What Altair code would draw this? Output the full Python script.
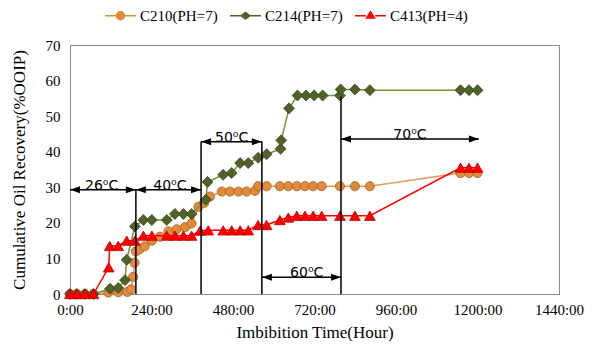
import altair as alt
import pandas as pd

# ---------------- data ----------------
series_names = ["C210(PH=7)", "C214(PH=7)", "C413(PH=4)"]

c210_hours = [0, 20, 44, 69, 113, 142, 169, 180, 186, 190, 194, 205, 220, 241, 265, 290, 314, 339, 358,
              378, 395, 412, 447, 471, 496, 520, 545, 554, 579, 618, 643, 668, 692, 716, 741, 795, 839, 883,
              1150, 1175, 1200]
c210_rec = [0, 0, 0, 0, 0.4, 0.5, 0.6, 1.3, 4.8, 8.8, 12.0, 12.6, 13.4, 15.0, 16.1, 17.6, 18.2, 18.8, 19.8,
            24.5, 25.6, 27.4, 28.8, 28.8, 28.8, 28.8, 29.0, 30.3, 30.3, 30.3, 30.3, 30.3, 30.3, 30.3, 30.3, 30.3,
            30.3, 30.3, 34.0, 34.0, 34.0]

c214_hours = [0, 20, 44, 69, 118, 142, 162, 167, 191, 216, 241, 285, 309, 334, 358, 400, 405, 451, 476,
              501, 525, 554, 579, 620, 622, 645, 670, 695, 719, 744, 795, 797, 839, 883, 1150, 1175, 1200]
c214_rec = [0, 0, 0, 0, 1.5, 1.7, 3.9, 9.6, 19.0, 20.8, 20.8, 20.8, 22.5, 22.5, 22.5, 26.5, 31.5, 33.5, 34.0,
            36.8, 36.8, 38.3, 39.3, 40.8, 43.2, 52.2, 55.8, 55.8, 55.8, 55.8, 55.8, 57.5, 57.5, 57.3, 57.3,
            57.3, 57.3]

c413_hours = [0, 20, 44, 69, 114, 117, 142, 167, 191, 216, 241, 285, 309, 334, 358, 383, 407, 451, 476,
              501, 525, 554, 579, 618, 643, 668, 692, 716, 741, 795, 839, 883, 1150, 1175, 1200]
c413_rec = [0, 0, 0, 0, 7.5, 13.5, 13.5, 15.0, 15.0, 16.4, 16.4, 16.4, 16.4, 16.4, 16.4, 17.8, 17.9, 17.9,
            17.9, 17.9, 17.9, 19.4, 19.4, 20.8, 21.5, 22.0, 22.0, 22.0, 22.0, 22.0, 22.0, 22.0, 35.5, 35.5, 35.5]

# temperature stage annotations (hours, % OOIP)
vline_hours = [194, 386, 565, 798]
vline_bottom = [0, 0, 0, 0]
vline_top = [29.3, 42.8, 42.8, 55.5]

arrow_start = [0, 194, 386, 565, 798]
arrow_end = [194, 386, 565, 798, 1204]
arrow_level = [29.3, 29.3, 42.8, 4.7, 43.6]
arrow_label_hour = [93, 294, 476, 697, 1001]
arrow_labels = ["26⁰C", "40⁰C", "50⁰C", "60⁰C", "70⁰C"]

x_tick_values = [0, 240, 480, 720, 960, 1200, 1440]
y_tick_values = [0, 10, 20, 30, 40, 50, 60, 70]

# ---------------- styles ----------------
line_colors = ["#E39A5A", "#76923C", "#FF0000"]
marker_fill = ["#E08A3C", "#4F6228", "#FF0000"]
marker_edge = ["#A8622A", "#3A4A1C", "#C00000"]
marker_shape = ["circle", "diamond", "triangle-up"]
marker_size = [85, 120, 115]

legend_paths = [
    "M-1,-0.05 L-0.28,-0.05 L-0.28,0.05 L-1,0.05 Z M0.28,-0.05 L1,-0.05 L1,0.05 L0.28,0.05 Z "
    "M-0.3,0 A0.3,0.3 0 1,1 0.3,0 A0.3,0.3 0 1,1 -0.3,0 Z",
    "M-1,-0.05 L-0.3,-0.05 L-0.3,0.05 L-1,0.05 Z M0.3,-0.05 L1,-0.05 L1,0.05 L0.3,0.05 Z "
    "M0,-0.27 L0.36,0 L0,0.27 L-0.36,0 Z",
    "M-1,-0.05 L-0.3,-0.05 L-0.3,0.05 L-1,0.05 Z M0.3,-0.05 L1,-0.05 L1,0.05 L0.3,0.05 Z "
    "M0,-0.36 L0.34,0.2 L-0.34,0.2 Z",
]
legend_colors = ["#E08A3C", "#4F6228", "#FF0000"]

# ---------------- tables ----------------
frames = []
for name, hrs, rec in [(series_names[0], c210_hours, c210_rec),
                       (series_names[1], c214_hours, c214_rec),
                       (series_names[2], c413_hours, c413_rec)]:
    frames.append(pd.DataFrame({"series": name, "hour": hrs, "rec": rec, "idx": range(len(hrs))}))
data = pd.concat(frames, ignore_index=True)

vlines = pd.DataFrame({"hour": vline_hours, "lo": vline_bottom, "hi": vline_top})
arrows = pd.DataFrame({"x1": arrow_start, "x2": arrow_end, "y": arrow_level,
                       "lx": arrow_label_hour, "label": arrow_labels})

serif = "Liberation Serif"
axis_font = dict(labelFont=serif, labelFontSize=15, labelColor="black",
                 titleFont=serif, titleFontSize=17, titleFontWeight="normal", titleColor="black",
                 domainColor="#8C8C8C", domainWidth=1)

x_scale = alt.Scale(domain=[0, 1440], nice=False, zero=False)
y_scale = alt.Scale(domain=[0, 70], nice=False)
x_axis = alt.Axis(values=x_tick_values, labelExpr="datum.value + ':00'",
                  title="Imbibition Time(Hour)", labelPadding=8, titlePadding=7,
                  labelFlush=False, grid=False, ticks=False, labelOverlap=False, **axis_font)
y_axis = alt.Axis(values=y_tick_values, title="Cumulative Oil Recovery(%OOIP)",
                  labelPadding=10, titlePadding=17, grid=False, ticks=False, labelOverlap=False,
                  **axis_font)


def X(field):
    return alt.X(field, scale=x_scale, axis=x_axis)


def Y(field):
    return alt.Y(field, scale=y_scale, axis=y_axis)


layers = []
for i, name in enumerate(series_names):
    base = alt.Chart(data).transform_filter(alt.datum.series == name)
    layers.append(base.mark_line(color=line_colors[i], strokeWidth=1.5).encode(
        x=X("hour:Q"), y=Y("rec:Q"), order="idx:Q"))
    layers.append(base.mark_point(filled=True, opacity=1, shape=marker_shape[i], size=marker_size[i],
                                  fill=marker_fill[i], stroke=marker_edge[i], strokeWidth=0.8).encode(
        x=X("hour:Q"), y=Y("rec:Q")))

# annotations
layers.append(alt.Chart(vlines).mark_rule(color="black", strokeWidth=1.5).encode(
    x=X("hour:Q"), y=Y("lo:Q"), y2="hi:Q"))
arrow_base = alt.Chart(arrows)
layers.append(arrow_base.mark_rule(color="black", strokeWidth=1.5).encode(
    x=X("x1:Q"), x2="x2:Q", y=Y("y:Q")))
layers.append(arrow_base.mark_point(filled=True, opacity=1, color="black", size=100,
                                    shape="M0,0 L2,-0.7 L2,0.7 Z").encode(x=X("x1:Q"), y=Y("y:Q")))
layers.append(arrow_base.mark_point(filled=True, opacity=1, color="black", size=100,
                                    shape="M0,0 L-2,-0.7 L-2,0.7 Z").encode(x=X("x2:Q"), y=Y("y:Q")))
layers.append(arrow_base.mark_text(font="DejaVu Sans", fontSize=14, baseline="alphabetic",
                                   color="black", dy=0).encode(x=X("lx:Q"), y=Y("y:Q"), text="label:N"))

# legend-only layer (no visible marks)
legend_opts = dict(title=None, orient="none", legendX=35, legendY=-45,
                   direction="horizontal", columns=3, symbolSize=961,
                   symbolStrokeWidth=0, labelFont=serif, labelFontSize=15,
                   labelColor="black", columnPadding=12, labelOffset=4, padding=0)
legend_df = pd.DataFrame({"series": series_names})
layers.append(alt.Chart(legend_df).mark_point(filled=True, opacity=1).encode(
    color=alt.Color("series:N", scale=alt.Scale(domain=series_names, range=legend_colors),
                    legend=alt.Legend(**legend_opts)),
    shape=alt.Shape("series:N", scale=alt.Scale(domain=series_names, range=legend_paths),
                    legend=alt.Legend(**legend_opts)),
).transform_filter("false"))

chart = alt.layer(*layers).properties(
    width=489, height=249,
    autosize=alt.AutoSizeParams(type="none"),
    padding={"left": 62, "top": 37, "right": 28, "bottom": 48},
    background="white",
).configure_view(stroke="#8C8C8C", strokeWidth=1)

chart.save("out.html", embed_options={"renderer": "svg", "actions": False})
